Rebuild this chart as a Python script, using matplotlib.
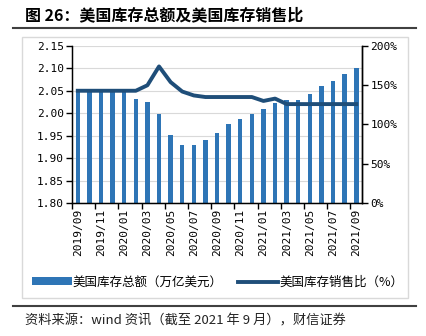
import numpy as np
import matplotlib.pyplot as plt
from matplotlib.patches import Rectangle
from matplotlib.lines import Line2D

months = ['2019/09', '2019/10', '2019/11', '2019/12', '2020/01', '2020/02', '2020/03',
          '2020/04', '2020/05', '2020/06', '2020/07', '2020/08', '2020/09', '2020/10',
          '2020/11', '2020/12', '2021/01', '2021/02', '2021/03', '2021/04', '2021/05',
          '2021/06', '2021/07', '2021/08', '2021/09']
inventory = [2.052, 2.055, 2.052, 2.052, 2.048, 2.031, 2.026, 1.999, 1.952, 1.930,
             1.930, 1.941, 1.957, 1.977, 1.987, 1.999, 2.009, 2.024, 2.029, 2.029,
             2.042, 2.061, 2.072, 2.088, 2.102]
ratio = [143, 143, 143, 143, 143, 143, 150, 174, 154, 142, 137, 135, 135, 135,
         135, 135, 130, 133, 126, 126, 126, 126, 126, 126, 126]
left_ticks = [1.80, 1.85, 1.90, 1.95, 2.00, 2.05, 2.10, 2.15]
right_ticks = [0, 50, 100, 150, 200]

cjk = ['Noto Sans CJK SC', 'DejaVu Sans']
mono = 'DejaVu Sans Mono'
bar_c = '#2E75B6'
line_c = '#1F4E79'

fig = plt.figure(figsize=(4.26, 3.36), dpi=100)

# outer frame and rules
fig.patches.append(Rectangle((0.052, 0.113), 0.906, 0.777, transform=fig.transFigure,
                             fill=False, ec='#D9D9D9', lw=1))
fig.lines.append(Line2D([0.03, 0.977], [0.917, 0.917], transform=fig.transFigure,
                        color='#404040', lw=1.5))
fig.lines.append(Line2D([0.03, 0.977], [0.089, 0.089], transform=fig.transFigure,
                        color='#404040', lw=1.5))
fig.text(0.058, 0.955, '图 26：美国库存总额及美国库存销售比', family=cjk,
         fontsize=11.5, fontweight='bold', va='center')
fig.text(0.058, 0.045, '资料来源：wind 资讯（截至 2021 年 9 月），财信证券', family=cjk,
         fontsize=9.5, va='center', color='#222222')

ax = fig.add_axes([0.169, 0.396, 0.681, 0.467])
x = np.arange(len(months))
ax.bar(x, inventory, width=0.38, color=bar_c, zorder=2, label='美国库存总额（万亿美元）')
ax.set_ylim(1.80, 2.15)
ax.set_xlim(-0.5, len(months) - 0.5)
ax.set_yticks(left_ticks)
ax.set_yticklabels(['%.2f' % v for v in left_ticks], family=mono, fontsize=8)
ax.yaxis.grid(True, color='#D9D9D9', lw=0.8, zorder=0)
ax.set_axisbelow(True)
ax.set_xticks(x[::2])
ax.set_xticklabels(months[::2], rotation=90, family=mono, fontsize=8)
ax.tick_params(axis='x', which='major', length=0, pad=4)
ax.set_xticks(np.arange(-0.5, len(months), 2), minor=True)
ax.tick_params(axis='x', which='minor', length=4, width=1, color='black')
ax.tick_params(axis='y', length=4, width=1, pad=2)
ax.spines['top'].set_visible(False)
for s in ['left', 'bottom', 'right']:
    ax.spines[s].set_linewidth(1)

ax2 = ax.twinx()
ax2.plot(x, ratio, color=line_c, lw=2.8, label='美国库存销售比（%）')
ax2.set_ylim(0, 200)
ax2.set_yticks(right_ticks)
ax2.set_yticklabels(['%d%%' % v for v in right_ticks], family=mono, fontsize=8)
ax2.tick_params(axis='y', length=4, width=1, pad=2)
ax2.spines['top'].set_visible(False)
ax2.spines['right'].set_linewidth(1)

h1, l1 = ax.get_legend_handles_labels()
h2, l2 = ax2.get_legend_handles_labels()
fig.legend(h1 + h2, l1 + l2, loc='center', bbox_to_anchor=(0.51, 0.16), ncol=2,
           frameon=False, prop={'family': cjk, 'size': 9}, handlelength=3.2,
           handleheight=0.6, handletextpad=0.1, columnspacing=1.2)

fig.savefig('out.png', dpi=100)
